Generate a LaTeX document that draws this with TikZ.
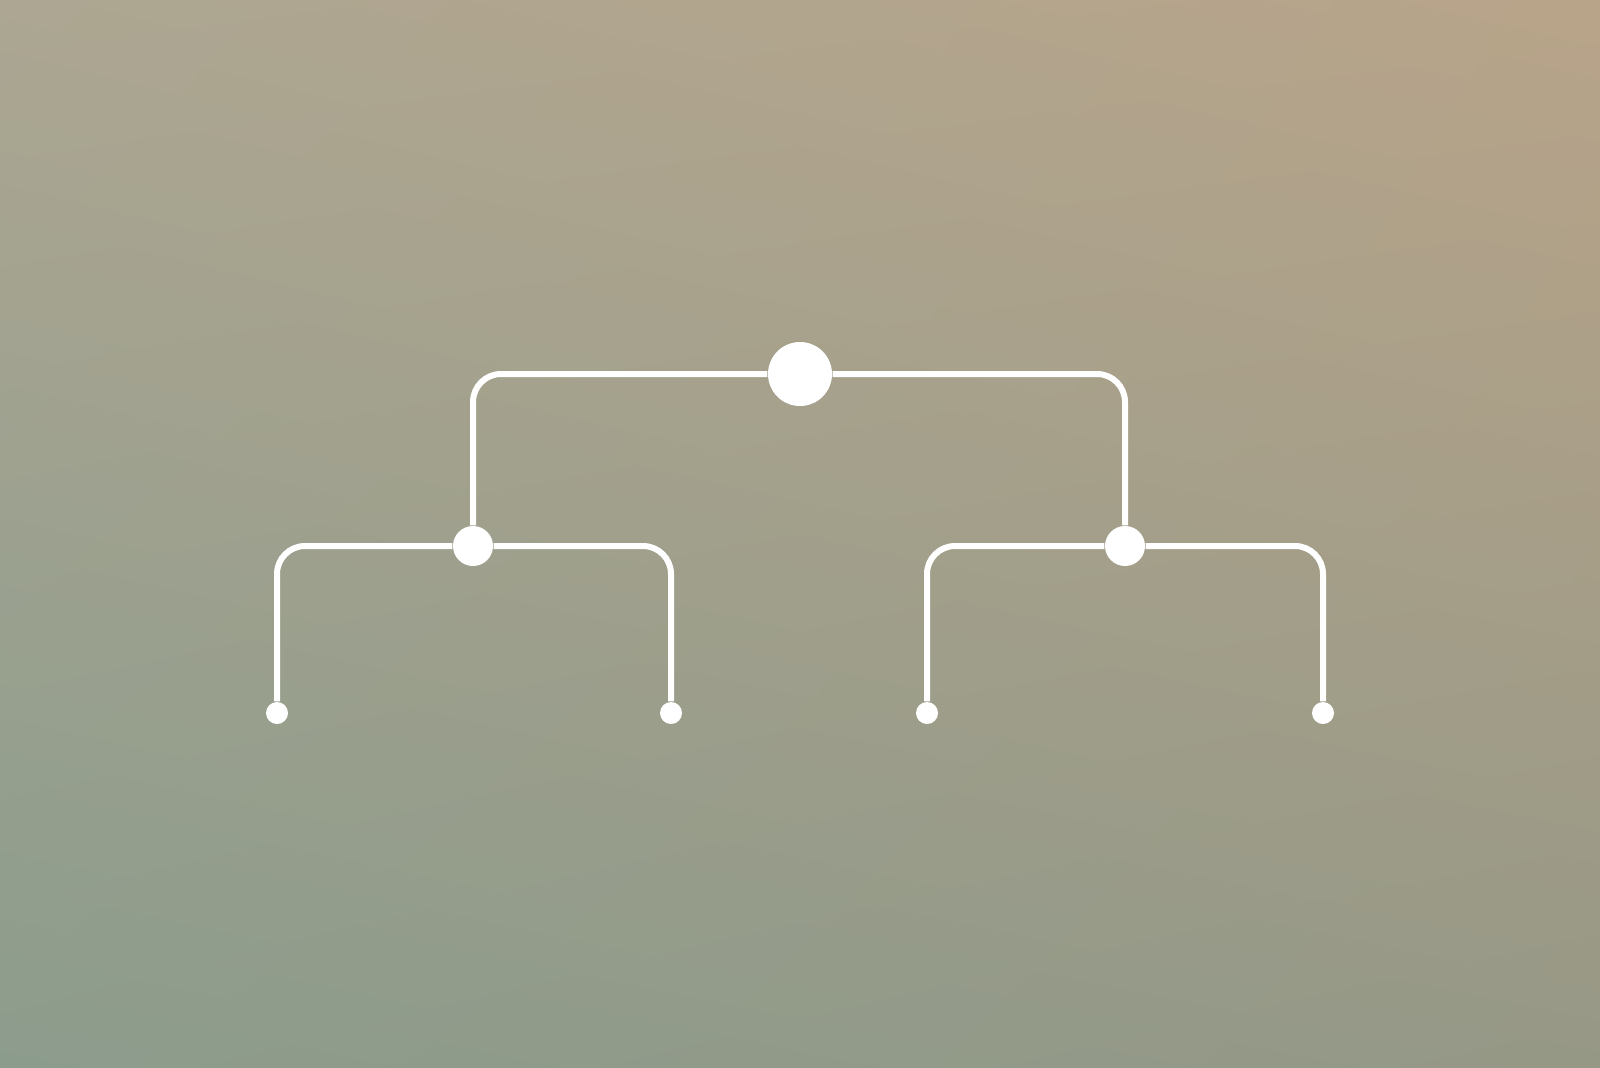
\documentclass[tikz,border=0pt]{standalone}
\usetikzlibrary{positioning,shadings}
\definecolor{bgtl}{RGB}{172,166,146}
\definecolor{bgtr}{RGB}{184,164,137}
\definecolor{bgbl}{RGB}{140,156,140}
\definecolor{bgbr}{RGB}{150,152,134}
\tikzset{
  dot/.style={circle,fill=white,draw=none,inner sep=0pt},
  branch/.style={draw=white,line width=0.06cm,rounded corners=0.28cm}
}
\begin{document}
\begin{tikzpicture}
        % Background
        \useasboundingbox (0,0) rectangle (16.000000,10.670000);
        \shade [upper left=bgtl,upper right=bgtr,lower left=bgbl,lower right=bgbr]
          (0,0) rectangle (16.000000,10.670000);%

        % Marking the nodes
        \node [dot,minimum size=0.64cm] (root) at (8.000000,6.930000) {};%
        \node [dot,minimum size=0.40cm] (left) at (4.730000,5.210000) {};%
        \node [dot,minimum size=0.40cm] (right) at (11.250000,5.210000) {};%
        \node [dot,minimum size=0.22cm] (leftleft) at (2.770000,3.540000) {};%
        \node [dot,minimum size=0.22cm] (leftright) at (6.710000,3.540000) {};%
        \node [dot,minimum size=0.22cm] (rightleft) at (9.270000,3.540000) {};%
        \node [dot,minimum size=0.22cm] (rightright) at (13.230000,3.540000) {};%

        % Drawing the branches
        \draw [branch] (left) |- (root);%
        \draw [branch] (right) |- (root);%
        \draw [branch] (leftleft) |- (left);%
        \draw [branch] (leftright) |- (left);%
        \draw [branch] (rightleft) |- (right);%
        \draw [branch] (rightright) |- (right);%
    \end{tikzpicture}
\end{document}
